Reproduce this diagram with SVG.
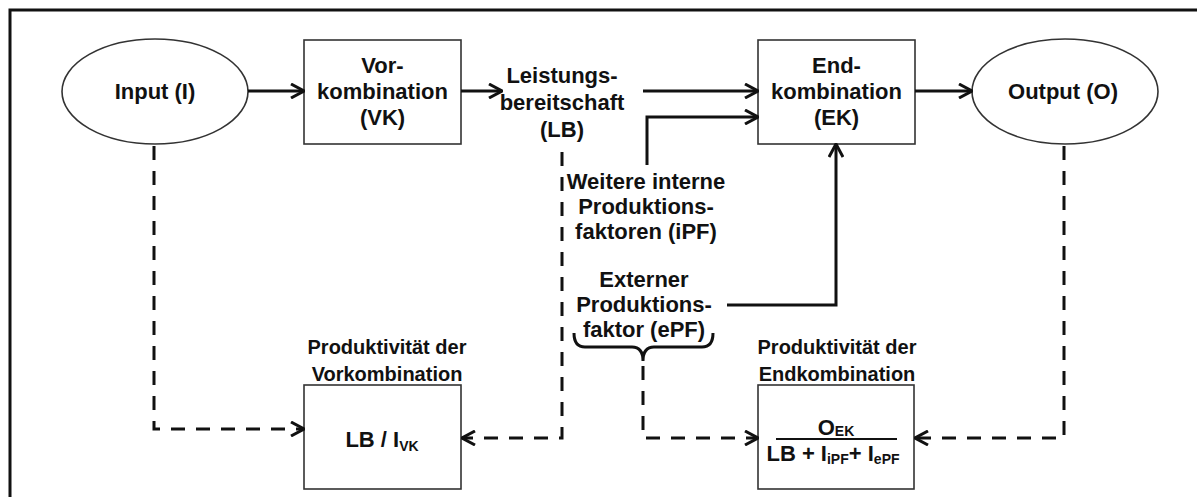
<svg xmlns="http://www.w3.org/2000/svg" width="1197" height="497" viewBox="0 0 1197 497">
<style>
text{font-family:"Liberation Sans",Arial,sans-serif;font-weight:bold;fill:#111;text-anchor:middle}
.t{font-size:22px}
.s{font-size:20px}
.sub{font-size:14px}
.box{fill:#fff;stroke:#333;stroke-width:1.6}
.c{fill:none;stroke:#111;stroke-width:3}
.d{fill:none;stroke:#111;stroke-width:3;stroke-dasharray:14 11}
</style>
<defs>
<marker id="ah" viewBox="0 0 16 16" refX="15" refY="8" markerWidth="16" markerHeight="16" markerUnits="userSpaceOnUse" orient="auto">
<path d="M2,1 L15,8 L2,15" fill="none" stroke="#111" stroke-width="3" stroke-dasharray="none"/>
</marker>
</defs>
<rect width="1197" height="497" fill="#fff"/>
<path d="M10,497 V10 H1197" fill="none" stroke="#111" stroke-width="3"/>
<g id="input"><ellipse class="box" cx="155" cy="91.5" rx="93" ry="52.5"/><text class="t" x="155" y="99">Input (I)</text></g>
<g id="vk"><rect class="box" x="304" y="40" width="157" height="104"/><text class="t" x="382.5" y="73">Vor-</text><text class="t" x="382.5" y="99">kombination</text><text class="t" x="382.5" y="125">(VK)</text></g>
<g id="lb"><text class="t" x="562" y="83">Leistungs-</text><text class="t" x="562" y="110">bereitschaft</text><text class="t" x="562" y="137">(LB)</text></g>
<g id="ek"><rect class="box" x="758" y="40" width="157" height="104"/><text class="t" x="836.5" y="73">End-</text><text class="t" x="836.5" y="99">kombination</text><text class="t" x="836.5" y="125">(EK)</text></g>
<g id="output"><ellipse class="box" cx="1065" cy="91.5" rx="93" ry="52.5"/><text class="t" x="1063" y="99">Output (O)</text></g>
<g id="ipf"><text class="t" x="646" y="189">Weitere interne</text><text class="t" x="646" y="214">Produktions-</text><text class="t" x="646" y="239">faktoren (iPF)</text></g>
<g id="epf"><text class="t" x="644" y="287">Externer</text><text class="t" x="644" y="312">Produktions-</text><text class="t" x="644" y="337">faktor (ePF)</text>
<path class="c" d="M574,333 Q574,347 585,347 L632,347 Q643,347 643,361 Q643,347 654,347 L702,347 Q713,347 713,333"/></g>
<g id="pvk"><text class="s" x="387" y="354">Produktivität der</text><text class="s" x="387" y="381">Vorkombination</text>
<rect class="box" x="304" y="385" width="157" height="104"/>
<text class="t" x="382" y="447">LB / I<tspan class="sub" dy="4">VK</tspan></text></g>
<g id="pek"><text class="s" x="837" y="354">Produktivität der</text><text class="s" x="837" y="381">Endkombination</text>
<rect class="box" x="758" y="385" width="156" height="104"/>
<text class="t" x="836" y="435">O<tspan class="sub" dy="1">EK</tspan></text>
<line x1="776" y1="439" x2="897" y2="439" stroke="#111" stroke-width="2"/>
<text class="t" x="833" y="461">LB + I<tspan class="sub" dy="3">iPF</tspan><tspan dy="-3">+ I</tspan><tspan class="sub" dy="3">ePF</tspan></text></g>
<g id="connectors">
<path class="c" d="M248,91 H304" marker-end="url(#ah)"/>
<path class="c" d="M461,91 H502" marker-end="url(#ah)"/>
<path class="c" d="M643,91 H758" marker-end="url(#ah)"/>
<path class="c" d="M647,165 V117 H758" marker-end="url(#ah)"/>
<path class="c" d="M727,305 H836 V144" marker-end="url(#ah)"/>
<path class="c" d="M915,91 H972" marker-end="url(#ah)"/>
<path class="d" d="M154,146 V429 H304" marker-end="url(#ah)"/>
<path class="d" d="M562,152 V438 H462" marker-end="url(#ah)"/>
<path class="d" d="M643,366 V438 H758" marker-end="url(#ah)"/>
<path class="d" d="M1064,146 V438 H915" marker-end="url(#ah)"/>
</g>
</svg>
